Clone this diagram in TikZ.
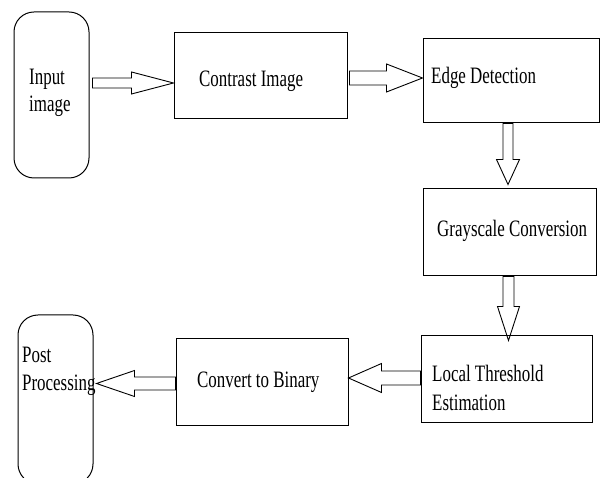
\documentclass[tikz,border=0pt]{standalone}
\usepackage{fontspec}
\setmainfont{Liberation Serif}
\usepackage{graphicx}
\usetikzlibrary{calc}
\newcommand{\sqz}[1]{\scalebox{0.72}[1]{#1}}
\tikzset{
  box/.style={draw, line width=1pt, rectangle, inner sep=0pt},
  rbox/.style={box, rounded corners=20pt},
  lbl/.style={inner sep=0pt, anchor=base west, font=\fontsize{23.5}{27}\selectfont},
  barrow/.style n args={3}{line width=0.9pt, to path={
    let \p1=(\tikztostart), \p2=(\tikztotarget),
        \n1={veclen(\x2-\x1,\y2-\y1)},
        \n2={(\x2-\x1)/\n1}, \n3={(\y2-\y1)/\n1} in
    ({\x1-(#1)*(\n3)},{\y1+(#1)*(\n2)})
    -- ({\x1+(\n1-#3)*(\n2)-(#1)*(\n3)},{\y1+(\n1-#3)*(\n3)+(#1)*(\n2)})
    -- ({\x1+(\n1-#3)*(\n2)-(#2)*(\n3)},{\y1+(\n1-#3)*(\n3)+(#2)*(\n2)})
    -- (\p2)
    -- ({\x1+(\n1-#3)*(\n2)+(#2)*(\n3)},{\y1+(\n1-#3)*(\n3)-(#2)*(\n2)})
    -- ({\x1+(\n1-#3)*(\n2)+(#1)*(\n3)},{\y1+(\n1-#3)*(\n3)-(#1)*(\n2)})
    -- ({\x1+(#1)*(\n3)},{\y1-(#1)*(\n2)})
    -- cycle}}
}
\begin{document}
\begin{tikzpicture}[x=1pt, y=1pt]
\useasboundingbox (0,0) rectangle (601,478);
\clip (0,0) rectangle (601,478);
\fill[white] (0,0) rectangle (601,478);

% boxes
\node[rbox, minimum width=75pt, minimum height=166pt] (in) at (51.5,383) {};
\node[box, minimum width=173pt, minimum height=86pt] (contrast) at (260.5,402) {};
\node[box, minimum width=176pt, minimum height=84pt] (edge) at (511,397) {};
\node[box, minimum width=173pt, minimum height=87pt] (gray) at (509.5,245.5) {};
\node[box, minimum width=171pt, minimum height=87pt] (local) at (506.5,98.5) {};
\node[box, minimum width=172pt, minimum height=87pt] (convert) at (262,95.5) {};
\node[rbox, minimum width=75pt, minimum height=169pt] (post) at (55.5,78.5) {};

% labels
\node[lbl] (tin1) at (29,393) {\sqz{Input}};
\node[lbl] (tin2) at (29,366) {\sqz{image}};
\node[lbl] (tcon) at (199,391) {\sqz{Contrast Image}};
\node[lbl] (tedge) at (431,394) {\sqz{Edge Detection}};
\node[lbl] (tgray) at (437,241) {\sqz{Grayscale Conversion}};
\node[lbl] (tloc1) at (432,96) {\sqz{Local Threshold}};
\node[lbl] (tloc2) at (432,67) {\sqz{Estimation}};
\node[lbl] (tbin) at (197,90) {\sqz{Convert to Binary}};
\node[lbl] (tpost1) at (22,115) {\sqz{Post}};
\node[lbl] (tpost2) at (22,87) {\sqz{Processing}};

% connectors
\coordinate (s1) at ($(in.east)+(3,12)$);
\draw[barrow={5}{11}{42}] (s1) to (contrast.west |- s1);
\coordinate (s2) at ($(contrast.east)+(2,-2)$);
\draw[barrow={7}{14}{36}] (s2) to (edge.west |- s2);
\coordinate (s3) at ($(edge.south)+(-3,0)$);
\draw[barrow={5}{11.5}{25}] (s3) to ($(s3 |- gray.north)+(0,4)$);
\coordinate (s4) at ($(gray.south)+(-1,0)$);
\draw[barrow={5.5}{11}{34}] (s4) to ($(s4 |- local.north)+(0,-5)$);
\coordinate (s5) at ($(local.west)+(0,1.5)$);
\draw[barrow={7}{14.5}{33}] (s5) to (convert.east |- s5);
\coordinate (s6) at ($(convert.west)+(0,-1)$);
\draw[barrow={6.5}{13}{38}] (s6) to ($(post.east |- s6)+(3,0)$);
\end{tikzpicture}
\end{document}
